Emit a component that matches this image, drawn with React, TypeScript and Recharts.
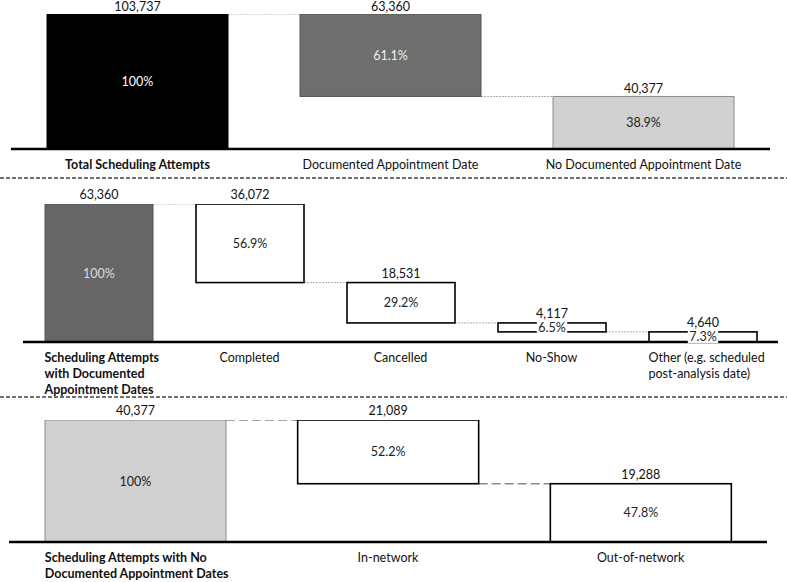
import React from "react";
import { BarChart, Bar, XAxis, YAxis, Cell, LabelList } from "recharts";

const FONT = "Lato, 'Open Sans', sans-serif";
const FS = 12.5;
const W = 787;
const PAD = 24; // room above the tallest bar for its value label

// panel 1: all scheduling attempts
const p1Categories = ["Total Scheduling Attempts", "Documented Appointment Date", "No Documented Appointment Date"];
const p1Values = [103737, 63360, 40377];
const p1Labels = [["Total Scheduling Attempts"], ["Documented Appointment Date"], ["No Documented Appointment Date"]];

// panel 2: attempts with a documented appointment date
const p2Categories = ["Scheduling Attempts with Documented Appointment Dates", "Completed", "Cancelled", "No-Show", "Other"];
const p2Values = [63360, 36072, 18531, 4117, 4640];
const p2Labels = [
  ["Scheduling Attempts", "with Documented", "Appointment Dates"],
  ["Completed"],
  ["Cancelled"],
  ["No-Show"],
  ["Other (e.g. scheduled", "post-analysis date)"],
];

// panel 3: attempts with no documented appointment date
const p3Categories = ["Scheduling Attempts with No Documented Appointment Dates", "In-network", "Out-of-network"];
const p3Values = [40377, 21089, 19288];
const p3Labels = [["Scheduling Attempts with No", "Documented Appointment Dates"], ["In-network"], ["Out-of-network"]];

type Style = { fill: string; stroke: string; sw: number; text: string };

const P1_STYLE: Style[] = [
  { fill: "#000000", stroke: "#000000", sw: 1, text: "#ffffff" },
  { fill: "#6e6e6e", stroke: "#555555", sw: 1, text: "#eeeeee" },
  { fill: "#d0d0d0", stroke: "#8a8a8a", sw: 1, text: "#222222" },
];
const WHITE: Style = { fill: "#ffffff", stroke: "#000000", sw: 1.6, text: "#222222" };
const P2_STYLE: Style[] = [{ fill: "#666666", stroke: "#555555", sw: 1, text: "#dddddd" }, WHITE, WHITE, WHITE, WHITE];
const P3_STYLE: Style[] = [{ fill: "#d0d0d0", stroke: "#8a8a8a", sw: 1, text: "#222222" }, WHITE, WHITE];

function buildRows(categories: string[], values: number[]) {
  const total = values[0];
  let running = total;
  return categories.map((name, i) => {
    let base = 0;
    if (i > 0) {
      running -= values[i];
      base = running;
    }
    const pct = i === 0 ? "100%" : ((values[i] / total) * 100).toFixed(1) + "%";
    return { name, base, value: values[i], pct };
  });
}

interface PanelProps {
  categories: string[];
  values: number[];
  labels: string[][];
  styles: Style[];
  plotTop: number;
  plotBottom: number;
  axisHeight: number;
  left: number;
  right: number;
  barSize: number;
  labelGap: number;
  link: { stroke: string; width: number; dash: string };
}

function Panel(p: PanelProps) {
  const rows = buildRows(p.categories, p.values);
  const n = rows.length;
  const band = (W - p.left - p.right) / n;
  const gap = band - p.barSize;
  const height = PAD + (p.plotBottom - p.plotTop) + p.axisHeight;

  const shape = (props: any) => {
    const { x, y, width, height, index } = props;
    const s = p.styles[index];
    const level = index === 0 ? y : y + height;
    return (
      <g>
        {index < n - 1 && (
          <line
            x1={x + width}
            x2={x + width + gap}
            y1={level}
            y2={level}
            stroke={p.link.stroke}
            strokeWidth={p.link.width}
            strokeDasharray={p.link.dash}
          />
        )}
        <rect x={x} y={y} width={width} height={height} fill={s.fill} stroke={s.stroke} strokeWidth={s.sw} />
      </g>
    );
  };

  const pctLabel = (props: any) => {
    const { x, y, width, height, index, value } = props;
    const s = p.styles[index];
    const cx = x + width / 2;
    const cy = y + height / 2;
    const tw = String(value).length * 6.6 + 4;
    return (
      <g>
        {s.fill === "#ffffff" && height < 20 && (
          <rect x={cx - tw / 2} y={cy - 6} width={tw} height={12} fill="#ffffff" />
        )}
        <text x={cx} y={cy + 4.5} textAnchor="middle" fontSize={FS} fontFamily={FONT} fill={s.text}>
          {value}
        </text>
      </g>
    );
  };

  const valueLabel = (props: any) => {
    const { x, y, width, value } = props;
    return (
      <text x={x + width / 2} y={y - p.labelGap} textAnchor="middle" fontSize={FS} fontFamily={FONT} fill="#111111">
        {Number(value).toLocaleString("en-US")}
      </text>
    );
  };

  const tick = (props: any) => {
    const { x, y, payload } = props;
    const i = payload.index;
    const lines = p.labels[i];
    const multi = lines.length > 1;
    const tx = multi ? x - p.barSize / 2 : x;
    return (
      <text
        x={tx}
        y={y + 20}
        textAnchor={multi ? "start" : "middle"}
        fontSize={FS}
        fontFamily={FONT}
        fontWeight={i === 0 ? 700 : 400}
        fill="#111111"
      >
        {lines.map((l, k) => (
          <tspan key={k} x={tx} dy={k === 0 ? 0 : 16}>
            {l}
          </tspan>
        ))}
      </text>
    );
  };

  return (
    <div style={{ position: "absolute", left: 0, top: p.plotTop - PAD }}>
      <BarChart
        width={W}
        height={height}
        data={rows}
        margin={{ top: PAD, left: p.left, right: p.right, bottom: 0 }}
        barSize={p.barSize}
      >
        <XAxis
          dataKey="name"
          interval={0}
          height={p.axisHeight}
          tickLine={false}
          tickSize={0}
          tickMargin={0}
          axisLine={{ stroke: "#000000", strokeWidth: 2.5 }}
          tick={tick}
        />
        <YAxis hide domain={[0, p.values[0]]} allowDataOverflow />
        <Bar dataKey="base" stackId="w" fill="transparent" isAnimationActive={false} />
        <Bar dataKey="value" stackId="w" shape={shape} isAnimationActive={false}>
          {rows.map((_, i) => (
            <Cell key={i} fill={p.styles[i].fill} />
          ))}
          <LabelList dataKey="pct" content={pctLabel} />
          <LabelList dataKey="value" content={valueLabel} />
        </Bar>
      </BarChart>
    </div>
  );
}

const thinLink = { stroke: "#9a9a9a", width: 0.8, dash: "2 1" };
const dashLink = { stroke: "#8a8a8a", width: 1.5, dash: "9 4" };

export default function App() {
  return (
    <div style={{ position: "absolute", left: 0, top: 0, width: W, height: 582, background: "#ffffff", overflow: "hidden" }}>
      <Panel
        categories={p1Categories}
        values={p1Values}
        labels={p1Labels}
        styles={P1_STYLE}
        plotTop={14}
        plotBottom={149}
        axisHeight={36}
        left={11}
        right={17}
        barSize={181}
        labelGap={3}
        link={thinLink}
      />
      <Panel
        categories={p2Categories}
        values={p2Values}
        labels={p2Labels}
        styles={P2_STYLE}
        plotTop={204}
        plotBottom={342}
        axisHeight={60}
        left={23}
        right={9}
        barSize={108}
        labelGap={5}
        link={thinLink}
      />
      <Panel
        categories={p3Categories}
        values={p3Values}
        labels={p3Labels}
        styles={P3_STYLE}
        plotTop={420}
        plotBottom={542}
        axisHeight={40}
        left={9}
        right={20}
        barSize={181}
        labelGap={5}
        link={dashLink}
      />
      <svg width={W} height={582} style={{ position: "absolute", left: 0, top: 0, pointerEvents: "none" }}>
        <line x1={0} x2={W} y1={178} y2={178} stroke="#444444" strokeWidth={1.5} strokeDasharray="4 2" />
        <line x1={0} x2={W} y1={397} y2={397} stroke="#444444" strokeWidth={1.5} strokeDasharray="4 2" />
      </svg>
    </div>
  );
}
